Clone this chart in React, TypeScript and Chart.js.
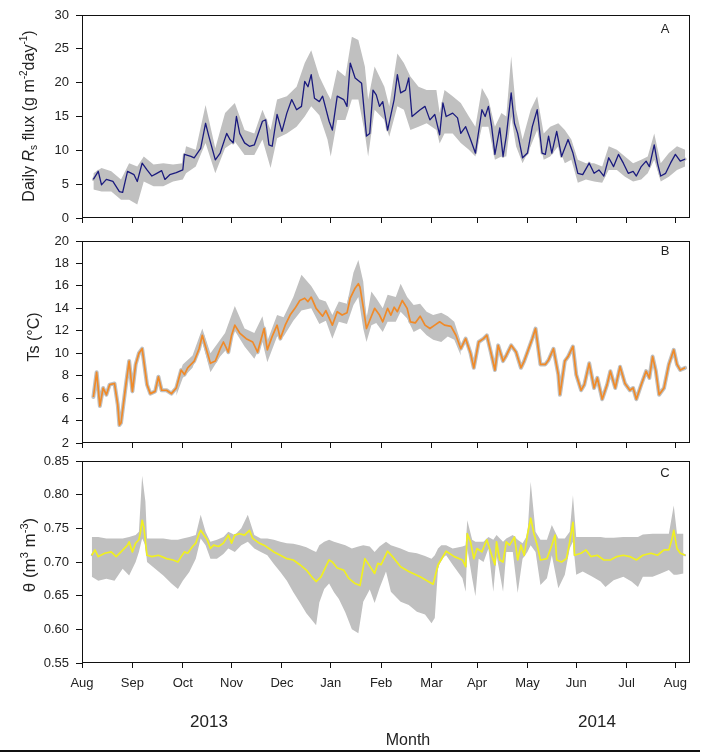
import React, { useEffect, useRef } from 'react';
import { Chart, registerables } from 'chart.js';

Chart.register(...registerables);

const FONT = '"Liberation Sans", Arial, Helvetica, sans-serif';
const GREY = '#c0c0c0';

// ---- x axis (days since 1 Aug 2013) ----
const monthTickDays = [0, 31, 62, 92, 123, 153, 184, 215, 243, 274, 304, 335, 365];
const monthLabels = ['Aug', 'Sep', 'Oct', 'Nov', 'Dec', 'Jan', 'Feb', 'Mar', 'Apr', 'May', 'Jun', 'Jul', 'Aug'];
const yearLabels = ['2013', '2014'];
const xAxisTitle = 'Month';

// ---- Panel A: daily Rs flux ----
const rsTicks = [0, 5, 10, 15, 20, 25, 30];
const rsDays = [7, 10, 12, 15, 19, 23, 25, 28, 32, 34, 37, 40, 43, 46, 49, 51, 54, 58, 62, 63, 67, 69, 73, 76, 78, 82, 85, 89, 91, 93, 95, 97, 100, 103, 106, 111, 113, 115, 117, 120, 123, 126, 129, 132, 135, 137, 139, 141, 143, 146, 148, 152, 154, 157, 161, 163, 165, 168, 172, 175, 177, 179, 181, 183, 185, 188, 192, 194, 196, 199, 201, 203, 208, 211, 214, 217, 220, 222, 224, 228, 231, 233, 236, 239, 242, 246, 248, 250, 252, 254, 257, 259, 261, 264, 266, 268, 271, 274, 277, 280, 283, 285, 287, 289, 292, 295, 299, 302, 305, 308, 312, 315, 318, 321, 324, 327, 330, 333, 336, 339, 341, 344, 347, 349, 352, 354, 356, 359, 362, 365, 368, 371];
const rsMean = [5.7, 6.9, 4.9, 5.7, 5.4, 3.9, 3.8, 6.9, 6.4, 5.4, 8.1, 7.1, 6.2, 6.6, 7.0, 5.7, 6.4, 6.7, 7.1, 9.4, 9.1, 8.9, 10.3, 14.0, 12.1, 8.6, 9.6, 12.5, 11.6, 11.1, 15.0, 12.5, 11.1, 10.6, 10.8, 14.3, 14.5, 10.8, 10.6, 15.3, 12.8, 15.5, 17.5, 16.0, 16.5, 20.2, 19.4, 21.2, 17.7, 17.2, 18.0, 14.3, 13.0, 18.0, 17.5, 16.5, 22.9, 20.7, 19.9, 12.1, 12.5, 18.9, 18.2, 16.5, 17.2, 13.0, 17.5, 21.2, 18.5, 18.9, 20.7, 15.0, 16.0, 16.5, 14.5, 15.3, 12.3, 17.0, 15.0, 15.5, 14.8, 12.5, 13.5, 11.6, 9.6, 16.0, 15.0, 16.5, 13.5, 9.4, 13.3, 9.1, 12.1, 18.5, 14.0, 12.5, 8.9, 9.6, 13.5, 16.0, 9.6, 9.4, 12.1, 9.6, 12.8, 9.1, 11.6, 9.6, 6.6, 6.4, 8.1, 6.6, 7.1, 6.2, 8.9, 7.6, 9.4, 8.1, 6.6, 6.9, 6.2, 7.6, 8.4, 7.6, 10.8, 8.1, 6.2, 6.6, 8.1, 9.4, 8.4, 8.7];
const rsBandDays = [7, 12, 18, 24, 29, 34, 38, 44, 50, 56, 62, 64, 70, 76, 82, 88, 94, 100, 106, 111, 116, 120, 126, 132, 137, 141, 146, 151, 153, 157, 162, 166, 170, 174, 176, 180, 186, 189, 194, 198, 202, 207, 212, 218, 220, 223, 228, 233, 238, 242, 246, 250, 254, 258, 261, 264, 267, 271, 276, 280, 284, 288, 293, 297, 301, 305, 310, 315, 320, 324, 329, 334, 339, 344, 348, 352, 356, 361, 366, 371];
const rsUpper = [6.6, 7.4, 6.9, 5.7, 8.1, 7.6, 9.1, 7.9, 8.1, 7.9, 8.1, 10.6, 10.1, 16.7, 10.3, 15.5, 17.0, 13.0, 12.5, 16.0, 13.0, 17.5, 18.0, 19.4, 22.9, 24.8, 20.9, 18.4, 17.5, 21.9, 20.9, 26.8, 26.3, 22.4, 17.5, 22.4, 19.4, 16.5, 24.3, 22.9, 20.9, 19.4, 18.9, 18.9, 15.5, 18.9, 18.0, 17.0, 15.0, 13.5, 19.2, 17.5, 13.5, 15.5, 15.0, 23.9, 16.0, 11.6, 16.0, 18.0, 12.5, 13.5, 14.0, 13.0, 11.6, 8.6, 8.1, 8.1, 7.6, 10.6, 10.1, 9.1, 8.1, 8.6, 9.1, 12.5, 8.1, 9.6, 10.6, 10.1];
const rsLower = [4.2, 3.9, 3.9, 2.7, 2.7, 2.0, 5.4, 4.7, 4.7, 5.4, 5.7, 6.6, 7.6, 11.1, 6.6, 10.3, 11.3, 9.3, 9.3, 11.6, 7.4, 11.8, 12.5, 13.5, 15.0, 16.5, 15.2, 11.6, 9.1, 14.5, 14.5, 17.5, 17.5, 12.5, 9.1, 16.0, 14.5, 12.0, 16.5, 16.0, 13.0, 13.5, 14.0, 13.0, 11.0, 12.5, 12.5, 11.1, 10.1, 9.1, 13.5, 13.5, 8.6, 9.1, 9.1, 15.0, 10.6, 8.1, 10.6, 13.0, 8.6, 9.1, 10.6, 8.1, 8.6, 5.2, 5.7, 5.4, 5.2, 7.1, 7.1, 6.1, 5.4, 5.7, 6.6, 8.6, 5.4, 6.1, 7.1, 7.6];

// ---- Panel B: soil temperature ----
const tsTicks = [2, 4, 6, 8, 10, 12, 14, 16, 18, 20];
const tsDays = [7, 9, 11, 13, 15, 17, 20, 22, 23, 24, 27, 29, 31, 33, 35, 37, 40, 42, 45, 47, 49, 52, 55, 58, 61, 63, 65, 69, 72, 74, 76, 79, 82, 85, 87, 90, 92, 94, 97, 101, 105, 108, 112, 114, 117, 120, 122, 125, 128, 131, 134, 137, 139, 141, 144, 148, 150, 154, 157, 160, 163, 165, 168, 170, 171, 173, 175, 178, 180, 183, 185, 188, 190, 192, 194, 197, 200, 202, 205, 208, 211, 214, 217, 220, 223, 227, 230, 233, 236, 239, 241, 244, 247, 249, 251, 254, 256, 259, 261, 264, 267, 270, 272, 274, 277, 279, 282, 285, 287, 290, 293, 294, 297, 299, 302, 304, 307, 309, 312, 315, 317, 320, 323, 325, 328, 331, 334, 337, 339, 341, 344, 347, 349, 351, 353, 355, 358, 361, 364, 366, 368, 371];
const tsMean = [6.1, 8.3, 5.3, 6.9, 6.3, 7.2, 7.3, 5.4, 3.6, 3.8, 7.2, 9.3, 6.6, 9.0, 10.0, 10.4, 7.2, 6.4, 6.6, 7.9, 6.7, 6.7, 6.4, 6.9, 8.5, 8.1, 8.7, 9.3, 10.4, 11.6, 10.6, 9.1, 9.3, 10.4, 11.0, 10.1, 11.6, 12.5, 11.8, 11.3, 11.0, 10.1, 12.2, 10.3, 11.5, 12.5, 11.3, 12.5, 13.4, 14.0, 14.7, 14.9, 14.6, 15.0, 14.0, 13.3, 13.8, 12.5, 13.7, 13.4, 13.6, 14.9, 15.8, 16.2, 15.9, 14.1, 12.2, 13.3, 14.0, 13.4, 12.8, 14.0, 13.4, 14.1, 13.7, 14.7, 14.0, 12.8, 12.7, 13.3, 12.5, 12.2, 12.5, 12.8, 12.5, 12.4, 11.6, 10.4, 11.3, 10.0, 8.7, 11.0, 11.3, 11.6, 10.4, 8.5, 10.7, 9.3, 9.8, 10.7, 10.1, 8.7, 9.3, 10.1, 11.3, 12.2, 9.0, 9.0, 9.4, 10.4, 8.1, 6.3, 9.3, 9.7, 10.6, 8.1, 6.7, 7.2, 9.1, 6.9, 7.8, 5.9, 7.2, 8.4, 6.9, 8.8, 7.3, 6.7, 6.9, 5.9, 7.2, 8.4, 7.8, 9.7, 8.4, 6.3, 6.9, 9.0, 10.3, 9.0, 8.5, 8.7];
const tsBandDays = [58, 62, 68, 74, 79, 85, 88, 94, 100, 106, 111, 114, 120, 124, 130, 135, 141, 146, 150, 154, 158, 163, 167, 170, 173, 175, 178, 181, 185, 188, 193, 196, 200, 204, 208, 212, 216, 221, 225, 229, 233];
const tsUpper = [7.4, 9.0, 9.8, 12.2, 10.0, 11.2, 11.8, 14.2, 12.2, 11.8, 13.3, 11.1, 13.4, 13.2, 15.0, 17.0, 16.0, 14.8, 14.6, 13.4, 14.6, 14.4, 17.2, 18.3, 16.4, 13.1, 15.5, 14.9, 14.0, 15.2, 15.0, 16.2, 15.0, 14.3, 14.4, 13.7, 13.4, 13.6, 13.3, 12.8, 11.0];
const tsLower = [6.2, 7.8, 8.7, 11.0, 8.3, 9.7, 10.2, 12.0, 10.6, 9.5, 11.0, 9.2, 11.5, 11.5, 12.9, 13.8, 14.0, 12.6, 12.9, 11.3, 12.8, 12.6, 14.3, 15.0, 12.2, 11.0, 12.5, 12.7, 11.9, 12.8, 12.8, 13.7, 13.1, 11.9, 12.2, 11.6, 11.2, 11.0, 11.5, 11.2, 9.8];

// ---- Panel C: soil water content ----
const thetaTicks = [0.55, 0.6, 0.65, 0.7, 0.75, 0.8, 0.85];
const thetaDays = [6, 8, 10, 14, 18, 21, 24, 28, 29, 31, 33, 35, 36, 37, 38, 40, 43, 47, 52, 56, 59, 61, 63, 65, 68, 70, 72, 73, 75, 77, 79, 81, 84, 87, 90, 92, 94, 97, 100, 103, 105, 109, 112, 115, 118, 122, 126, 130, 134, 138, 142, 144, 147, 150, 152, 154, 157, 161, 164, 168, 171, 174, 180, 182, 184, 188, 191, 196, 201, 208, 216, 219, 224, 229, 234, 236, 237, 239, 241, 243, 246, 249, 252, 254, 255, 257, 259, 261, 263, 266, 268, 270, 272, 274, 276, 278, 280, 282, 286, 289, 291, 292, 295, 298, 300, 302, 303, 307, 310, 313, 317, 321, 325, 329, 333, 337, 341, 345, 350, 354, 358, 361, 363, 364, 366, 368, 371];
const thetaMean = [0.710, 0.718, 0.708, 0.713, 0.715, 0.708, 0.715, 0.725, 0.730, 0.715, 0.728, 0.733, 0.745, 0.762, 0.752, 0.710, 0.708, 0.710, 0.705, 0.703, 0.700, 0.708, 0.715, 0.713, 0.723, 0.728, 0.742, 0.747, 0.740, 0.733, 0.720, 0.725, 0.723, 0.728, 0.740, 0.728, 0.740, 0.742, 0.740, 0.747, 0.735, 0.728, 0.725, 0.720, 0.715, 0.710, 0.705, 0.703, 0.696, 0.688, 0.676, 0.671, 0.678, 0.693, 0.703, 0.700, 0.691, 0.688, 0.676, 0.668, 0.665, 0.705, 0.683, 0.698, 0.696, 0.716, 0.708, 0.693, 0.686, 0.678, 0.667, 0.696, 0.716, 0.708, 0.703, 0.693, 0.742, 0.730, 0.705, 0.720, 0.715, 0.733, 0.710, 0.696, 0.730, 0.703, 0.700, 0.730, 0.725, 0.737, 0.703, 0.725, 0.710, 0.740, 0.765, 0.742, 0.725, 0.703, 0.705, 0.725, 0.740, 0.703, 0.700, 0.705, 0.730, 0.759, 0.710, 0.713, 0.718, 0.708, 0.710, 0.703, 0.703, 0.708, 0.710, 0.708, 0.703, 0.710, 0.713, 0.710, 0.718, 0.718, 0.735, 0.747, 0.720, 0.713, 0.710];
const thetaBandDays = [6, 10, 15, 20, 25, 29, 33, 35, 37, 39, 40, 45, 50, 55, 59, 62, 66, 70, 73, 76, 79, 83, 87, 90, 94, 98, 102, 106, 110, 114, 118, 122, 126, 130, 134, 138, 142, 144, 146, 149, 152, 155, 158, 162, 166, 170, 173, 177, 180, 183, 187, 190, 196, 201, 206, 211, 215, 217, 219, 221, 224, 228, 234, 236, 237, 240, 242, 244, 247, 250, 253, 255, 259, 261, 265, 268, 271, 274, 276, 279, 282, 286, 289, 293, 297, 300, 302, 304, 308, 314, 319, 322, 327, 333, 338, 342, 345, 351, 356, 361, 364, 366, 370];
const thetaUpper = [0.737, 0.737, 0.735, 0.735, 0.735, 0.737, 0.740, 0.745, 0.828, 0.790, 0.735, 0.735, 0.735, 0.733, 0.733, 0.735, 0.737, 0.740, 0.770, 0.745, 0.730, 0.733, 0.737, 0.745, 0.740, 0.750, 0.770, 0.740, 0.735, 0.735, 0.733, 0.730, 0.728, 0.727, 0.725, 0.722, 0.717, 0.715, 0.725, 0.730, 0.733, 0.730, 0.728, 0.725, 0.720, 0.723, 0.725, 0.723, 0.715, 0.723, 0.730, 0.725, 0.720, 0.715, 0.713, 0.709, 0.705, 0.710, 0.720, 0.725, 0.725, 0.720, 0.723, 0.725, 0.762, 0.733, 0.730, 0.730, 0.730, 0.737, 0.733, 0.740, 0.730, 0.735, 0.740, 0.733, 0.728, 0.740, 0.819, 0.745, 0.733, 0.733, 0.755, 0.735, 0.735, 0.745, 0.799, 0.737, 0.737, 0.737, 0.737, 0.736, 0.736, 0.737, 0.737, 0.737, 0.741, 0.742, 0.742, 0.742, 0.784, 0.742, 0.742];
const thetaLower = [0.678, 0.672, 0.675, 0.672, 0.690, 0.680, 0.700, 0.715, 0.735, 0.725, 0.700, 0.690, 0.680, 0.668, 0.660, 0.672, 0.685, 0.705, 0.735, 0.725, 0.705, 0.705, 0.712, 0.720, 0.715, 0.725, 0.730, 0.720, 0.715, 0.710, 0.697, 0.685, 0.672, 0.655, 0.640, 0.624, 0.612, 0.606, 0.640, 0.660, 0.668, 0.655, 0.645, 0.625, 0.600, 0.594, 0.641, 0.659, 0.639, 0.661, 0.686, 0.656, 0.641, 0.636, 0.626, 0.622, 0.609, 0.617, 0.690, 0.705, 0.710, 0.696, 0.676, 0.656, 0.720, 0.676, 0.649, 0.705, 0.700, 0.720, 0.656, 0.710, 0.656, 0.715, 0.715, 0.654, 0.705, 0.715, 0.725, 0.715, 0.666, 0.676, 0.710, 0.661, 0.681, 0.720, 0.730, 0.681, 0.686, 0.678, 0.671, 0.663, 0.673, 0.678, 0.671, 0.663, 0.678, 0.678, 0.683, 0.688, 0.681, 0.681, 0.683];

type Part = { text: string; size: number; italic?: boolean; dy?: number };

function drawRich(ctx: CanvasRenderingContext2D, parts: Part[], cx: number, cy: number) {
  ctx.save();
  ctx.translate(cx, cy);
  ctx.rotate(-Math.PI / 2);
  ctx.textAlign = 'left';
  ctx.textBaseline = 'alphabetic';
  ctx.fillStyle = '#222';
  const fontOf = (p: Part) => `${p.italic ? 'italic ' : ''}${p.size}px ${FONT}`;
  let w = 0;
  for (const p of parts) {
    ctx.font = fontOf(p);
    w += ctx.measureText(p.text).width;
  }
  let x = -w / 2;
  for (const p of parts) {
    ctx.font = fontOf(p);
    ctx.fillText(p.text, x, 6 + (p.dy || 0));
    x += ctx.measureText(p.text).width;
  }
  ctx.restore();
}

const decorPlugin = {
  id: 'decor',
  afterDraw(chart: any, _args: any, opts: any) {
    const { ctx, chartArea: a } = chart;
    ctx.save();
    ctx.strokeStyle = '#111';
    ctx.lineWidth = 1;
    const l = Math.round(a.left) + 0.5;
    const t = Math.round(a.top) + 0.5;
    const r = Math.round(a.right) - 0.5;
    const b = Math.round(a.bottom) - 0.5;
    ctx.strokeRect(l, t, r - l, b - t);
    ctx.fillStyle = '#222';
    ctx.font = `13px ${FONT}`;
    ctx.textAlign = 'center';
    ctx.textBaseline = 'middle';
    ctx.fillText(opts.letter, a.right - 25, a.top + opts.letterDy);
    ctx.restore();
    drawRich(ctx, opts.title, opts.titleX, opts.titleY);
  },
};

type PanelSpec = {
  days: number[];
  values: number[];
  bandDays: number[];
  upper: number[];
  lower: number[];
  color: string;
  lineWidth: number;
  underlay: number;
  yTicks: number[];
  decimals: number;
  showX: boolean;
  padTop: number;
  xHeight: number;
  letter: string;
  letterDy: number;
  title: Part[];
  titleX: number;
  titleY: number;
};

const pts = (xs: number[], ys: number[]) => xs.map((x, i) => ({ x, y: ys[i] }));

function buildConfig(p: PanelSpec): any {
  const tickFont = { family: FONT, size: 13 };
  return {
    type: 'line',
    data: {
      datasets: [
        { data: pts(p.bandDays, p.upper), borderColor: 'rgba(0,0,0,0)', borderWidth: 1, backgroundColor: GREY, pointRadius: 0, fill: false, order: 3, tension: 0 },
        { data: pts(p.bandDays, p.lower), borderColor: 'rgba(0,0,0,0)', borderWidth: 1, backgroundColor: GREY, pointRadius: 0, fill: '-1', order: 2, tension: 0 },
        { data: pts(p.days, p.values), borderColor: GREY, borderWidth: p.underlay, borderJoinStyle: 'round', borderCapStyle: 'round', pointRadius: 0, fill: false, order: 1, tension: 0 },
        { data: pts(p.days, p.values), borderColor: p.color, borderWidth: p.lineWidth, borderJoinStyle: 'round', pointRadius: 0, fill: false, order: 0, tension: 0 },
      ],
    },
    options: {
      responsive: false,
      animation: false,
      events: [],
      layout: { padding: { left: 0, right: 17, top: p.padTop, bottom: 0 } },
      plugins: {
        legend: { display: false },
        tooltip: { enabled: false },
        decor: { letter: p.letter, letterDy: p.letterDy, title: p.title, titleX: p.titleX, titleY: p.titleY },
      },
      scales: {
        x: {
          type: 'linear',
          min: 0,
          max: 374,
          afterBuildTicks: (s: any) => {
            s.ticks = monthTickDays.map((v) => ({ value: v }));
          },
          afterFit: (s: any) => {
            s.height = p.xHeight;
            s.paddingLeft = 0;
            s.paddingRight = 0;
          },
          grid: { display: true, drawOnChartArea: false, drawTicks: true, tickLength: 5, color: '#111', lineWidth: 1 },
          border: { display: false },
          ticks: {
            display: p.showX,
            padding: 8,
            autoSkip: false,
            maxRotation: 0,
            font: tickFont,
            color: '#222',
            callback: (v: any) => {
              const i = monthTickDays.indexOf(Number(v));
              return i >= 0 ? monthLabels[i] : '';
            },
          },
        },
        y: {
          type: 'linear',
          min: p.yTicks[0],
          max: p.yTicks[p.yTicks.length - 1],
          afterBuildTicks: (s: any) => {
            s.ticks = p.yTicks.map((v) => ({ value: v }));
          },
          afterFit: (s: any) => {
            s.width = 82;
            s.paddingTop = 0;
            s.paddingBottom = 0;
          },
          grid: { display: true, drawOnChartArea: false, drawTicks: true, tickLength: 6, color: '#111', lineWidth: 1 },
          border: { display: false },
          ticks: {
            padding: 7,
            font: tickFont,
            color: '#222',
            callback: (v: any) => Number(v).toFixed(p.decimals),
          },
        },
      },
    },
    plugins: [decorPlugin],
  };
}

const panelA: PanelSpec = {
  days: rsDays, values: rsMean, bandDays: rsBandDays, upper: rsUpper, lower: rsLower,
  color: '#1a1a7e', lineWidth: 1.3, underlay: 3, yTicks: rsTicks, decimals: 0, showX: false,
  padTop: 15, xHeight: 17, letter: 'A', letterDy: 14,
  title: [
    { text: 'Daily ', size: 16 },
    { text: 'R', size: 16, italic: true },
    { text: 's', size: 10, dy: 3 },
    { text: ' flux (g m', size: 16 },
    { text: '-2', size: 10, dy: -7 },
    { text: 'day', size: 16 },
    { text: '-1', size: 10, dy: -7 },
    { text: ')', size: 16 },
  ],
  titleX: 28, titleY: 116,
};

const panelB: PanelSpec = {
  days: tsDays, values: tsMean, bandDays: tsBandDays, upper: tsUpper, lower: tsLower,
  color: '#f08a28', lineWidth: 1.7, underlay: 4, yTicks: tsTicks, decimals: 0, showX: false,
  padTop: 16, xHeight: 17, letter: 'B', letterDy: 10,
  title: [{ text: 'Ts (°C)', size: 16 }],
  titleX: 33, titleY: 112,
};

const panelC: PanelSpec = {
  days: thetaDays, values: thetaMean, bandDays: thetaBandDays, upper: thetaUpper, lower: thetaLower,
  color: '#f0f020', lineWidth: 1.7, underlay: 2, yTicks: thetaTicks, decimals: 2, showX: true,
  padTop: 16, xHeight: 90, letter: 'C', letterDy: 12,
  title: [
    { text: 'θ (m', size: 17 },
    { text: '3', size: 11, dy: -7 },
    { text: ' m', size: 17 },
    { text: '-3', size: 11, dy: -7 },
    { text: ')', size: 17 },
  ],
  titleX: 29, titleY: 110,
};

function Panel({ spec, top, height }: { spec: PanelSpec; top: number; height: number }) {
  const ref = useRef<HTMLCanvasElement>(null);
  useEffect(() => {
    const chart = new Chart(ref.current as HTMLCanvasElement, buildConfig(spec));
    return () => chart.destroy();
  }, [spec]);
  return (
    <canvas
      ref={ref}
      width={707}
      height={height}
      style={{ position: 'absolute', left: 0, top, width: 707, height, display: 'block' }}
    />
  );
}

const labelStyle: React.CSSProperties = {
  position: 'absolute',
  transform: 'translate(-50%, -50%)',
  fontFamily: FONT,
  color: '#222',
  lineHeight: 1,
  whiteSpace: 'nowrap',
};

export default function App() {
  return (
    <div style={{ position: 'absolute', left: 0, top: 0, width: 707, height: 753, background: '#fff', overflow: 'hidden' }}>
      <Panel spec={panelA} top={0} height={235} />
      <Panel spec={panelB} top={225} height={235} />
      <Panel spec={panelC} top={445} height={308} />
      <div style={{ ...labelStyle, left: 209, top: 721, fontSize: 17 }}>{yearLabels[0]}</div>
      <div style={{ ...labelStyle, left: 597, top: 721, fontSize: 17 }}>{yearLabels[1]}</div>
      <div style={{ ...labelStyle, left: 408, top: 740, fontSize: 16 }}>{xAxisTitle}</div>
      <div style={{ position: 'absolute', left: 0, top: 750, width: 700, height: 2, background: '#111' }} />
    </div>
  );
}
